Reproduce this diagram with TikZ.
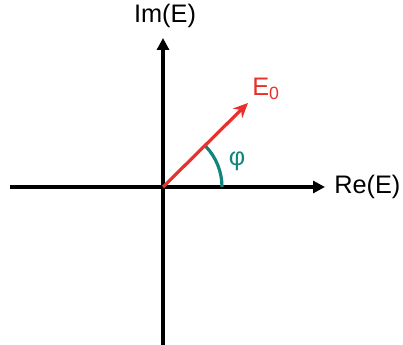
\documentclass[tikz,border=0pt]{standalone}
\usepackage{amsmath,amssymb}
\usepackage{fontspec}
\setmainfont{Liberation Sans}
\usepackage{tikz}
\usetikzlibrary{arrows.meta}

\definecolor{vecred}{RGB}{232,48,44}
\definecolor{angteal}{RGB}{18,132,126}

\begin{document}
\begin{tikzpicture}[x=0.75pt,y=0.75pt,
    axis/.style={line width=2.4pt,-{Triangle[length=9pt,width=9pt]}},
    lbl/.style={font=\fontsize{19}{22}\selectfont,inner sep=0pt}]
  \useasboundingbox (-163,-158) rectangle (240,187);
  \coordinate (O) at (0,0);
  \coordinate (xl) at (-153,0);
  \coordinate (xr) at (162,0);
  \coordinate (yb) at (0,-160);
  \coordinate (yt) at (0,149);
  \coordinate (E) at (85,84);
  \draw[axis] (xl) -- (xr);
  \draw[axis] (yb) -- (yt);
  \node[lbl,anchor=west] (re) at (171,0) {Re(E)};
  \node[lbl] (im) at (2,171) {Im(E)};
  % angle between vector and real axis
  \draw[angteal,line width=2.4pt] (59,0) arc (0:44:59);
  \node[lbl,text=angteal] (phi) at (74,26) {φ};
  \draw[vecred,line width=2.4pt,-{Stealth[length=11pt,width=10pt]}] (O) -- (E);
  \node[lbl,text=vecred] (e0) at (103,98) {E\textsubscript{0}};
\end{tikzpicture}
\end{document}
